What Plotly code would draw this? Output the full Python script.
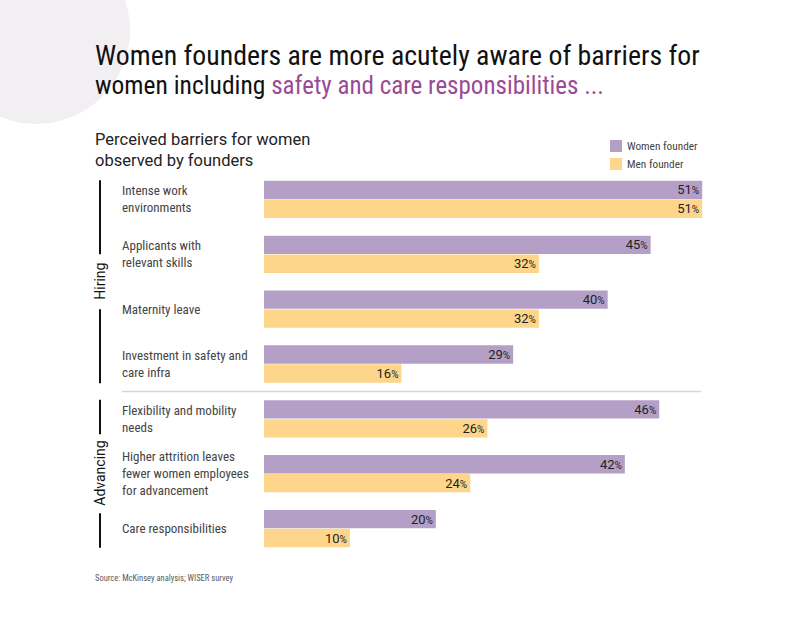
import plotly.graph_objects as go

categories = [
    "Intense work<br>environments",
    "Applicants with<br>relevant skills",
    "Maternity leave",
    "Investment in safety and<br>care infra",
    "Flexibility and mobility<br>needs",
    "Higher attrition leaves<br>fewer women employees<br>for advancement",
    "Care responsibilities",
]
women_founder = [51, 45, 40, 29, 46, 42, 20]
men_founder = [51, 32, 32, 16, 26, 24, 10]
groups = [("Hiring", 0, 3, 0.5), ("Advancing", 4, 6, 0.72)]

W, H = 800, 618
ML, MR, MT, MB = 264, 60, 172, 62
PW, PH = W - ML - MR, H - MT - MB

def px(x):
    return (x - ML) / PW

def py(y):
    return 1 - (y - MT) / PH

FONT = "Roboto Condensed, Liberation Sans Narrow, Arial Narrow, Roboto, sans-serif"
FONT_R = "Roboto, sans-serif"
PURPLE = "#b4a0c7"
YELLOW = "#fdd68b"

def lbl(v):
    return f"{v}<span style='font-size:10px'>%</span>"

ys = list(range(len(categories)))
fig = go.Figure()
for name, vals, col in [("Women founder", women_founder, PURPLE),
                        ("Men founder", men_founder, YELLOW)]:
    fig.add_trace(go.Bar(
        y=ys, x=vals, orientation="h", name=name,
        marker=dict(color=col, line=dict(width=0)),
        text=[lbl(v) for v in vals], textposition="inside",
        insidetextanchor="end", constraintext="none",
        textfont=dict(family=FONT_R, size=13, color="#222"),
        hoverinfo="skip",
    ))

shapes = []
annotations = []

# background circle
shapes.append(dict(type="circle", xref="paper", yref="paper", layer="below",
                   x0=px(36 - 94), x1=px(36 + 94), y0=py(30 + 94), y1=py(30 - 94),
                   fillcolor="#f2eff3", line=dict(width=0)))

# category labels
for i, c in enumerate(categories):
    annotations.append(dict(x=px(120), xref="paper", y=i, yref="y", text=c,
                            xanchor="left", yanchor="middle", align="left",
                            showarrow=False,
                            font=dict(family=FONT, size=13, color="#444")))

# group brackets
for name, a, b, gap in groups:
    y0 = a - 0.35
    y1 = b + 0.35
    mid = (a + b) / 2
    shapes.append(dict(type="line", xref="paper", yref="y", x0=px(100), x1=px(100),
                       y0=y0, y1=mid - gap, line=dict(color="#111", width=2)))
    shapes.append(dict(type="line", xref="paper", yref="y", x0=px(100), x1=px(100),
                       y0=mid + gap, y1=y1, line=dict(color="#111", width=2)))
    annotations.append(dict(x=px(100), xref="paper", y=mid, yref="y",
                            xanchor="center", yanchor="middle",
                            text=name, textangle=-90, showarrow=False,
                            font=dict(family=FONT_R, size=14, color="#111")))

# divider
shapes.append(dict(type="line", xref="paper", yref="y", x0=px(122), x1=px(701),
                   y0=3.5, y1=3.5, line=dict(color="#d6d6d6", width=1.5)))

# legend
shapes.append(dict(type="rect", xref="paper", yref="paper", x0=px(610), x1=px(622),
                   y0=py(152), y1=py(140), fillcolor=PURPLE, line=dict(width=0)))
shapes.append(dict(type="rect", xref="paper", yref="paper", x0=px(610), x1=px(622),
                   y0=py(170), y1=py(158), fillcolor=YELLOW, line=dict(width=0)))
annotations.append(dict(x=px(625), y=py(146), xref="paper", yref="paper",
                        text="Women founder", xanchor="left", yanchor="middle",
                        showarrow=False, font=dict(family=FONT, size=11.3, color="#444")))
annotations.append(dict(x=px(625), y=py(164), xref="paper", yref="paper",
                        text="Men founder", xanchor="left", yanchor="middle",
                        showarrow=False, font=dict(family=FONT, size=11.3, color="#444")))

# titles
annotations.append(dict(x=px(93), y=py(55), xref="paper", yref="paper",
                        text="Women founders are more acutely aware of barriers for",
                        xanchor="left", yanchor="middle", showarrow=False,
                        font=dict(family=FONT, size=27.8, color="#111")))
annotations.append(dict(x=px(93), y=py(85), xref="paper", yref="paper",
                        text="women including <span style='color:#9a4a96;font-size:25px'>safety and care responsibilities ...</span>",
                        xanchor="left", yanchor="middle", showarrow=False,
                        font=dict(family=FONT, size=25.5, color="#111")))
annotations.append(dict(x=px(93), y=py(150), xref="paper", yref="paper",
                        text="Perceived barriers for women<br>observed by founders",
                        xanchor="left", yanchor="middle", align="left", showarrow=False,
                        font=dict(family=FONT_R, size=16.5, color="#222")))
annotations.append(dict(x=px(93), y=py(578), xref="paper", yref="paper",
                        text="Source: McKinsey analysis; WISER survey",
                        xanchor="left", yanchor="middle", showarrow=False,
                        font=dict(family=FONT, size=8.5, color="#5a5a5a")))

fig.update_layout(
    width=W, height=H,
    margin=dict(l=ML, r=MR, t=MT, b=MB, pad=0),
    paper_bgcolor="white", plot_bgcolor="white",
    barmode="group", bargap=0.31, bargroupgap=0.03,
    showlegend=False,
    xaxis=dict(range=[0, 55.4], visible=False, fixedrange=True),
    yaxis=dict(range=[6.5, -0.5], visible=False, fixedrange=True),
    shapes=shapes, annotations=annotations,
)
fig.write_html("out.html", config={"displayModeBar": False})
